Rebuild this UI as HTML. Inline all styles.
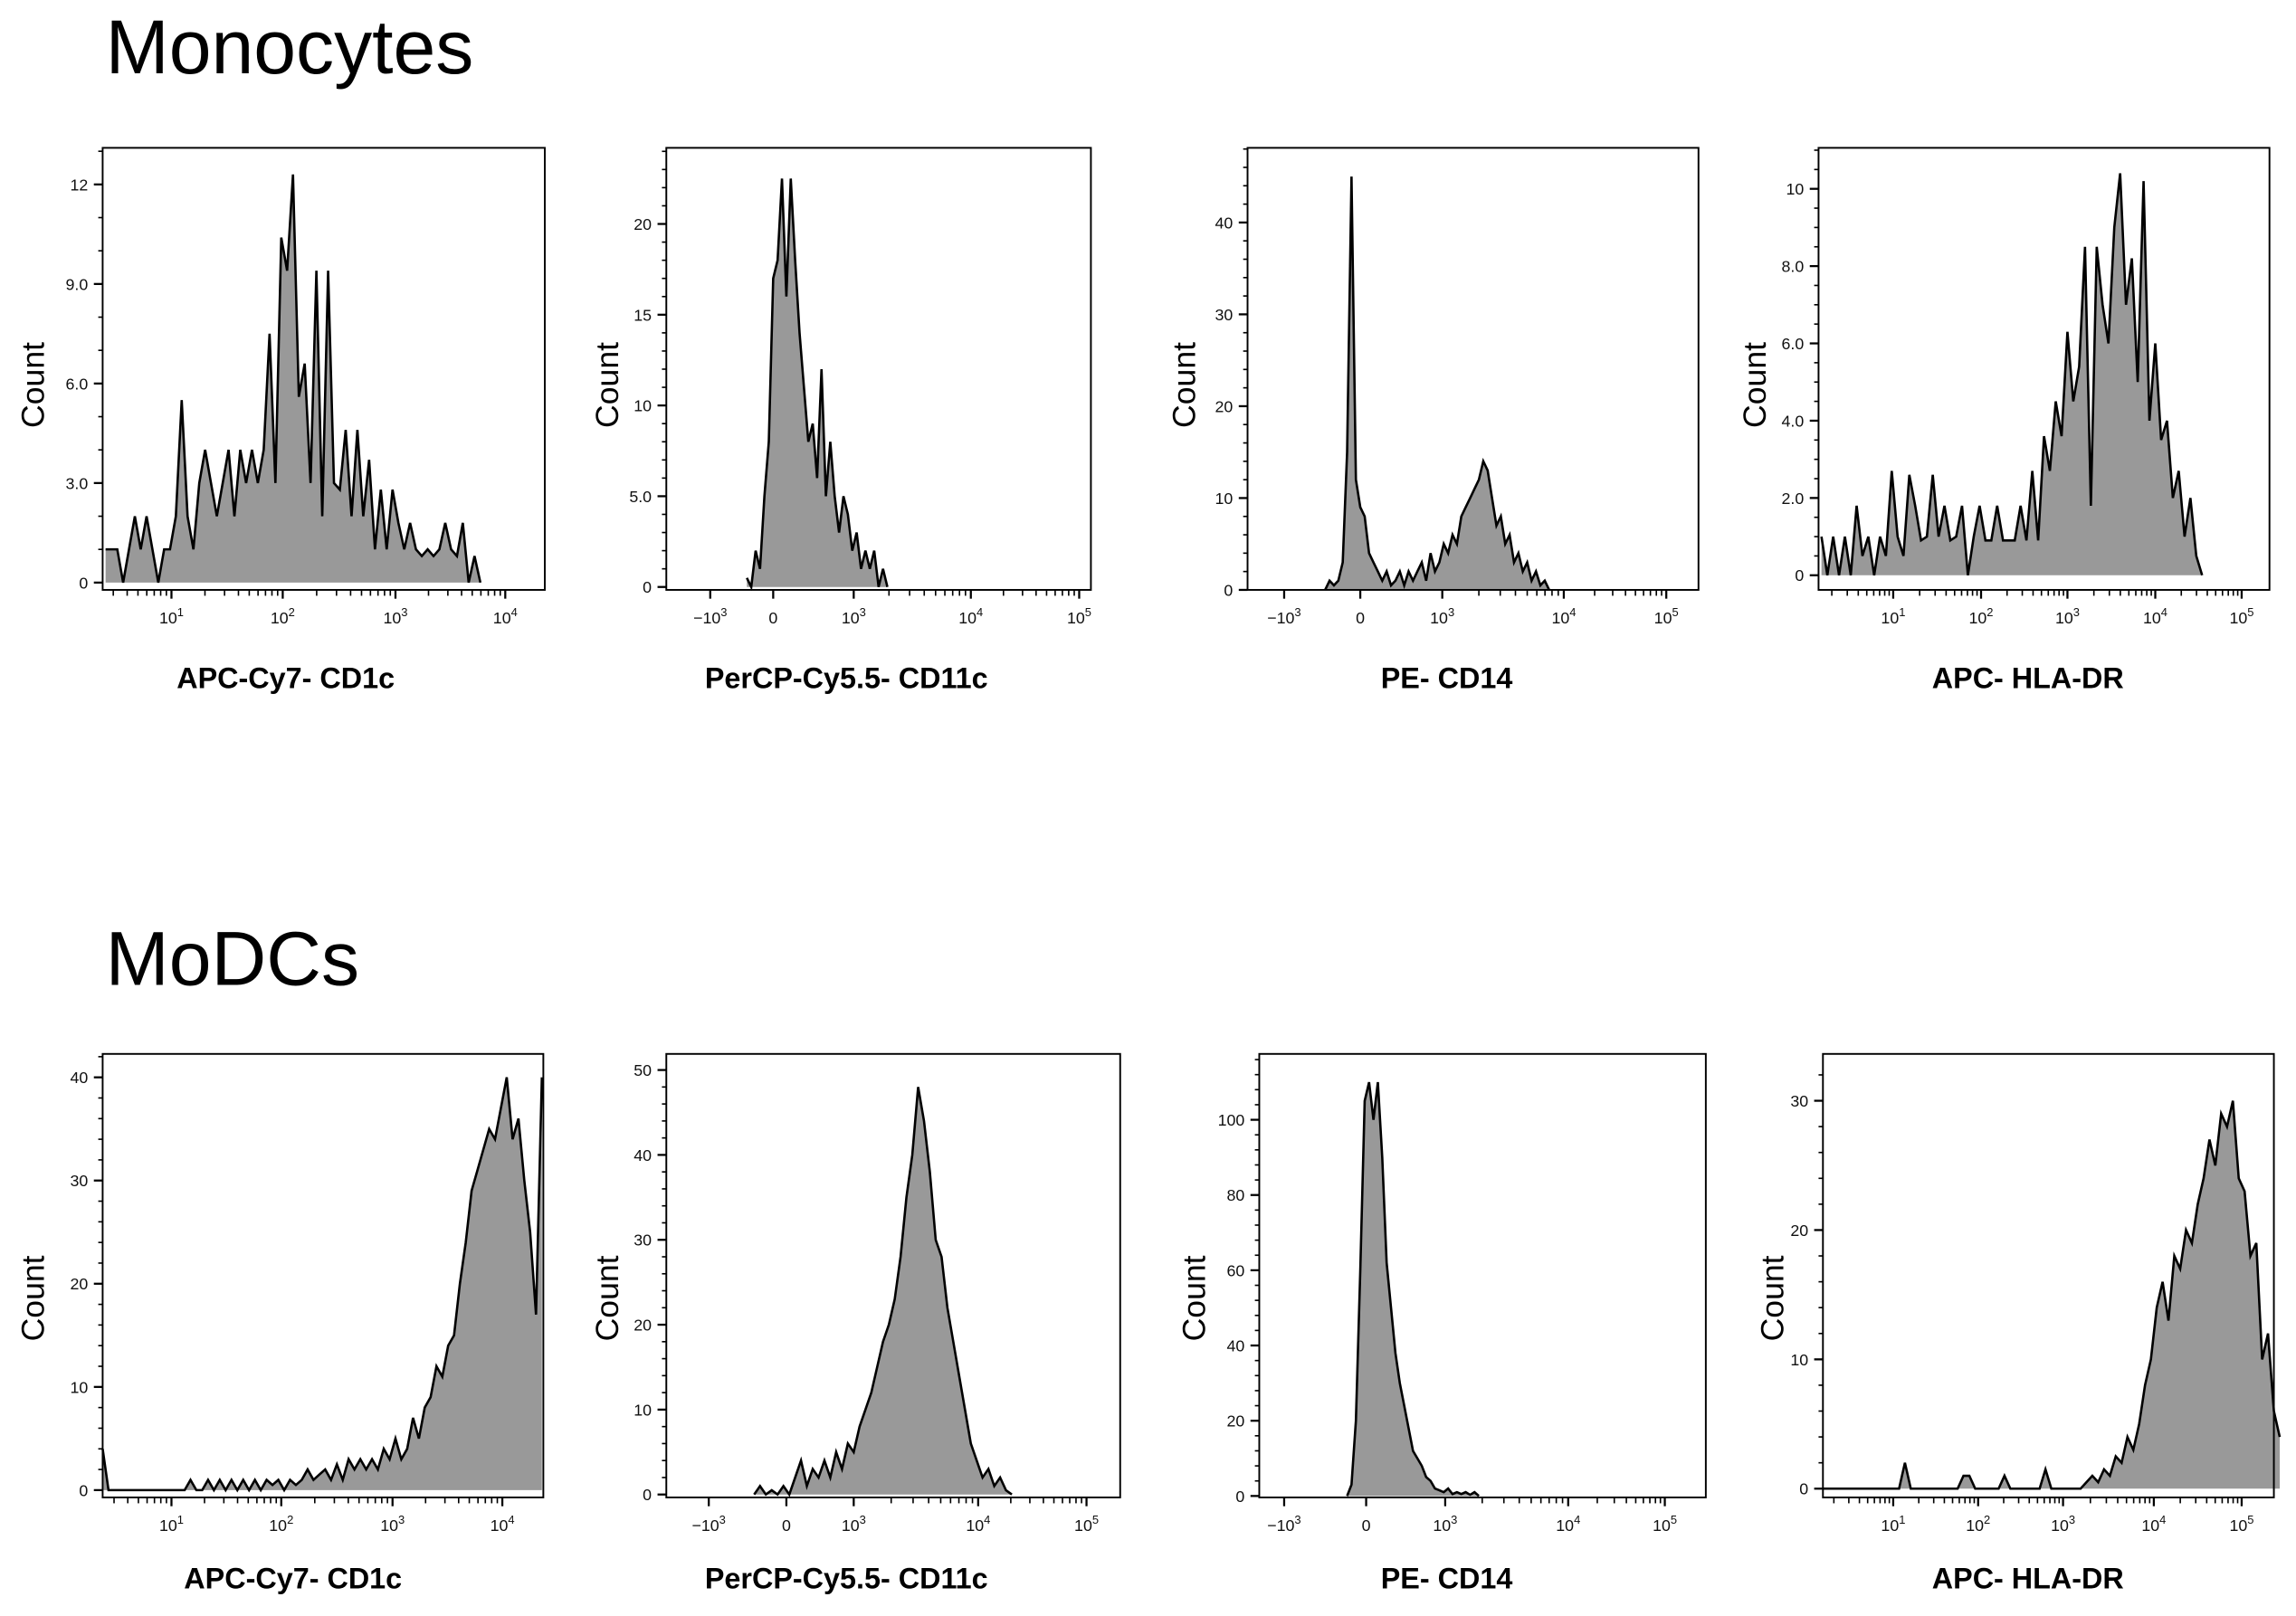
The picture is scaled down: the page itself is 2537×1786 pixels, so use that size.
<!DOCTYPE html>
<html><head><meta charset="utf-8"><style>
html,body{margin:0;padding:0;background:#fff;}
svg{display:block;}
text{font-family:"Liberation Sans",Arial,sans-serif;}
</style></head><body>
<svg id="fig" width="2537" height="1786" viewBox="0 0 1568 1104" xmlns="http://www.w3.org/2000/svg">
<text x="72" y="50" font-size="52">Monocytes</text>
<text x="72" y="673" font-size="52">MoDCs</text>
</svg>
<script>
// ---- data (counts per histogram bin) ----
const monoCD1c = [1,1,1,0,1,2,1,2,1,0,1,1,2,5.5,2,1,3,4,3,2,3,4,2,4,3,4,3,4,7.5,3,10.4,9.4,12.3,5.6,6.6,3,9.4,2,9.4,3,2.8,4.6,2,4.6,2,3.7,1,2.8,1,2.8,1.8,1,1.8,1,0.8,1,0.8,1,1.8,1,0.8,1.8,0,0.8,0];
const monoCD11c = [0.5,0,2,1,5,8,17,18,22.5,16,22.5,18,14,11,8,9,6,12,5,8,5,3,5,4,2,3,1,2,1,2,0,1,0];
const monoCD14 = [0,1,0.5,1,3,15,45,12,9,8,4,3,2,1,2,0.5,1,2,0.5,2,1,2,3,1,4,2,3,5,4,6,5,8,9,10,11,12,14,13,10,7,8,5,6,3,4,2,3,1,2,0.5,1,0];
const monoHLADR = [1,0,1,0,1,0,1.8,0.5,1,0,1,0.5,2.7,1,0.5,2.6,1.8,0.9,1,2.6,1,1.8,0.9,1,1.8,0,1,1.8,0.9,0.9,1.8,0.9,0.9,0.9,1.8,0.9,2.7,0.9,3.6,2.7,4.5,3.6,6.3,4.5,5.4,8.5,1.8,8.5,7,6,9,10.4,7,8.2,5,10.2,4,6,3.5,4,2,2.7,1,2,0.5,0];
const dcCD1c = [4,0,0,0,0,0,0,0,0,0,0,0,0,0,0,1,0,0,1,0,1,0,1,0,1,0,1,0,1,0.5,1,0,1,0.5,1,2,1,1.5,2,1,2.5,1,3,2,3,2,3,2,4,3,5,3,4,7,5,8,9,12,11,14,15,20,24,29,31,33,35,34,37,40,34,36,30,25,17,40];
const dcCD11c = [0,1,0,0.5,0,1,0,2,4,1,3,2,4,2,5,3,6,5,8,10,12,15,18,20,23,28,35,40,48,44,38,30,28,22,18,14,10,6,4,2,3,1,2,0.5,0];
const dcCD14 = [0,3,20,60,105,110,100,110,90,62,50,38,30,24,18,12,10,8,5,4,2,1.5,1,2,0.5,1,0.5,1,0.3,1,0];
const dcHLADR = [0,0,0,0,0,0,0,0,0,0,0,0,0,0,2,0,0,0,0,0,0,0,0,0,1,1,0,0,0,0,0,1,0,0,0,0,0,0,1.5,0,0,0,0,0,0,0.5,1,0.5,1.5,1,2.5,2,4,3,5,8,10,14,16,13,18,17,20,19,22,24,27,25,29,28,30,24,23,18,19,10,12,6,4];
// y tick labels
const yTicksMonoCD1c = ["0","3.0","6.0","9.0","12"];
const yTicksMonoCD11c = ["0","5.0","10","15","20"];
const yTicksMonoCD14 = ["0","10","20","30","40"];
const yTicksMonoHLADR = ["0","2.0","4.0","6.0","8.0","10"];
const yTicksDcCD1c = ["0","10","20","30","40"];
const yTicksDcCD11c = ["0","10","20","30","40","50"];
const yTicksDcCD14 = ["0","20","40","60","80","100"];
const yTicksDcHLADR = ["0","10","20","30"];

// ---- layout ----
const panels = [
 {id:'mono-cd1c',box:[70,101,372,403],y0:398,yMaxTick:12,yTopPx:126,ticks:yTicksMonoCD1c,minor:3,data:monoCD1c,dx0:72,step:4,xt:[117,193,270,345],xlab:["10|1","10|2","10|3","10|4"],dec:[[117,193],[193,270],[270,345]],pre:[[70,117]],title:'APC-Cy7- CD1c',tx:195,ty:470,cx:22,cy:263},
 {id:'mono-cd11c',box:[455,101,745,403],y0:401,yMaxTick:20,yTopPx:153,ticks:yTicksMonoCD11c,minor:5,data:monoCD11c,dx0:510,step:3,xt:[485,528,583,663,737],xlab:["−10|3","0","10|3","10|4","10|5"],dec:[[583,663],[663,737]],title:'PerCP-Cy5.5- CD11c',tx:578,ty:470,cx:414,cy:263},
 {id:'mono-cd14',box:[852,101,1160,403],y0:403,yMaxTick:40,yTopPx:152,ticks:yTicksMonoCD14,minor:5,data:monoCD14,dx0:905,step:3,xt:[877,929,985,1068,1138],xlab:["−10|3","0","10|3","10|4","10|5"],dec:[[985,1068],[1068,1138]],title:'PE- CD14',tx:988,ty:470,cx:808,cy:263},
 {id:'mono-hladr',box:[1242,101,1550,403],y0:393,yMaxTick:10,yTopPx:129,ticks:yTicksMonoHLADR,minor:4,data:monoHLADR,dx0:1244,step:4,xt:[1293,1353,1412,1472,1531],xlab:["10|1","10|2","10|3","10|4","10|5"],dec:[[1293,1353],[1353,1412],[1412,1472],[1472,1531]],pre:[[1242,1293]],title:'APC- HLA-DR',tx:1385,ty:470,cx:1198,cy:263},
 {id:'dc-cd1c',box:[70,720,371,1023],y0:1018,yMaxTick:40,yTopPx:736,ticks:yTicksDcCD1c,minor:5,data:dcCD1c,dx0:70,step:4,xt:[117,192,268,343],xlab:["10|1","10|2","10|3","10|4"],dec:[[117,192],[192,268],[268,343]],pre:[[70,117]],title:'APC-Cy7- CD1c',tx:200,ty:1085,cx:22,cy:887},
 {id:'dc-cd11c',box:[455,720,765,1023],y0:1021,yMaxTick:50,yTopPx:731,ticks:yTicksDcCD11c,minor:5,data:dcCD11c,dx0:515,step:4,xt:[484,537,583,668,742],xlab:["−10|3","0","10|3","10|4","10|5"],dec:[[583,668],[668,742]],title:'PerCP-Cy5.5- CD11c',tx:578,ty:1085,cx:414,cy:887},
 {id:'dc-cd14',box:[860,720,1165,1023],y0:1022,yMaxTick:100,yTopPx:765,ticks:yTicksDcCD14,minor:5,data:dcCD14,dx0:920,step:3,xt:[877,933,987,1071,1137],xlab:["−10|3","0","10|3","10|4","10|5"],dec:[[987,1071],[1071,1137]],title:'PE- CD14',tx:988,ty:1085,cx:815,cy:887},
 {id:'dc-hladr',box:[1245,720,1553,1023],y0:1017,yMaxTick:30,yTopPx:752,ticks:yTicksDcHLADR,minor:5,data:dcHLADR,dx0:1245,step:4,xt:[1293,1351,1409,1471,1531],xlab:["10|1","10|2","10|3","10|4","10|5"],dec:[[1293,1351],[1351,1409],[1409,1471],[1471,1531]],pre:[[1245,1293]],title:'APC- HLA-DR',tx:1385,ty:1085,cx:1210,cy:887}
];

const NS='http://www.w3.org/2000/svg';
const svg=document.getElementById('fig');
function mk(tag,attrs,parent){const e=document.createElementNS(NS,tag);for(const k in attrs)e.setAttribute(k,attrs[k]);(parent||svg).appendChild(e);return e;}

panels.forEach(p=>{
  const g=mk('g',{});
  
  
  const [x0,yT,x1,yB]=p.box;
  const yScale=v=>p.y0-v*(p.y0-p.yTopPx)/p.yMaxTick;
  const xScale=i=>p.dx0+i*p.step;
  let d='M'+xScale(0)+','+p.y0;
  p.data.forEach((v,i)=>{d+=' L'+xScale(i)+','+yScale(v).toFixed(1);});
  d+=' L'+xScale(p.data.length-1)+','+p.y0+' Z';
  const area=mk('path',{d:d,fill:'#999','stroke':'none'},g);
  
  
  let ld='';
  p.data.forEach((v,i)=>{ld+=(i?' L':'M')+xScale(i)+','+yScale(v).toFixed(1);});
  const line=mk('path',{d:ld,fill:'none',stroke:'#000','stroke-width':1.6},g);
  
  
  const box=mk('rect',{x:x0,y:yT,width:x1-x0,height:yB-yT,fill:'none',stroke:'#000','stroke-width':1.2},g);
  
  
  const stepV=p.yMaxTick/(p.ticks.length-1);
  p.ticks.forEach((t,k)=>{
    const y=yScale(k*stepV);
    mk('line',{x1:x0-6,x2:x0,y1:y,y2:y,stroke:'#000','stroke-width':1.4},g);
    const tx=mk('text',{x:x0-10,y:y+4,'font-size':11,'text-anchor':'end',fill:'#111'},g);
    tx.textContent=t;
    
    
  });
  const mstep=stepV/p.minor;
  for(let v=0; yScale(v)>=yT; v+=mstep){const y=yScale(v);mk('line',{x1:x0-3,x2:x0,y1:y,y2:y,stroke:'#000','stroke-width':1},g);}
  p.xt.forEach((x,k)=>{
    mk('line',{x1:x,x2:x,y1:yB,y2:yB+6,stroke:'#000','stroke-width':1.4},g);
    const parts=p.xlab[k].split('|');
    const t=mk('text',{x:x,y:yB+23,'font-size':11,'text-anchor':'middle',fill:'#111'},g);
    
    
    t.textContent=parts[0];
    if(parts[1]){const s=mk('tspan',{dy:-5,'font-size':8},t);s.textContent=parts[1];}
  });
  p.dec.forEach(([a,b])=>{for(let m=2;m<10;m++){const x=a+Math.log10(m)*(b-a);mk('line',{x1:x,x2:x,y1:yB,y2:yB+4,stroke:'#000','stroke-width':1},g);}});
  if(p.pre){p.pre.forEach(([a,b])=>{const w=p.dec[0][1]-p.dec[0][0];for(let m=2;m<10;m++){const x=b-w+Math.log10(m)*w;if(x>a)mk('line',{x1:x,x2:x,y1:yB,y2:yB+4,stroke:'#000','stroke-width':1},g);}});}
  const xt=mk('text',{x:p.tx,y:p.ty,'font-size':20,'font-weight':'bold','text-anchor':'middle'},g);
  xt.textContent=p.title;
  
  
  const ct=mk('text',{x:0,y:0,'font-size':22,'text-anchor':'middle',transform:'translate('+(p.cx+8)+','+p.cy+') rotate(-90)'},g);
  ct.textContent='Count';
  
  
});
</script>
</body></html>
